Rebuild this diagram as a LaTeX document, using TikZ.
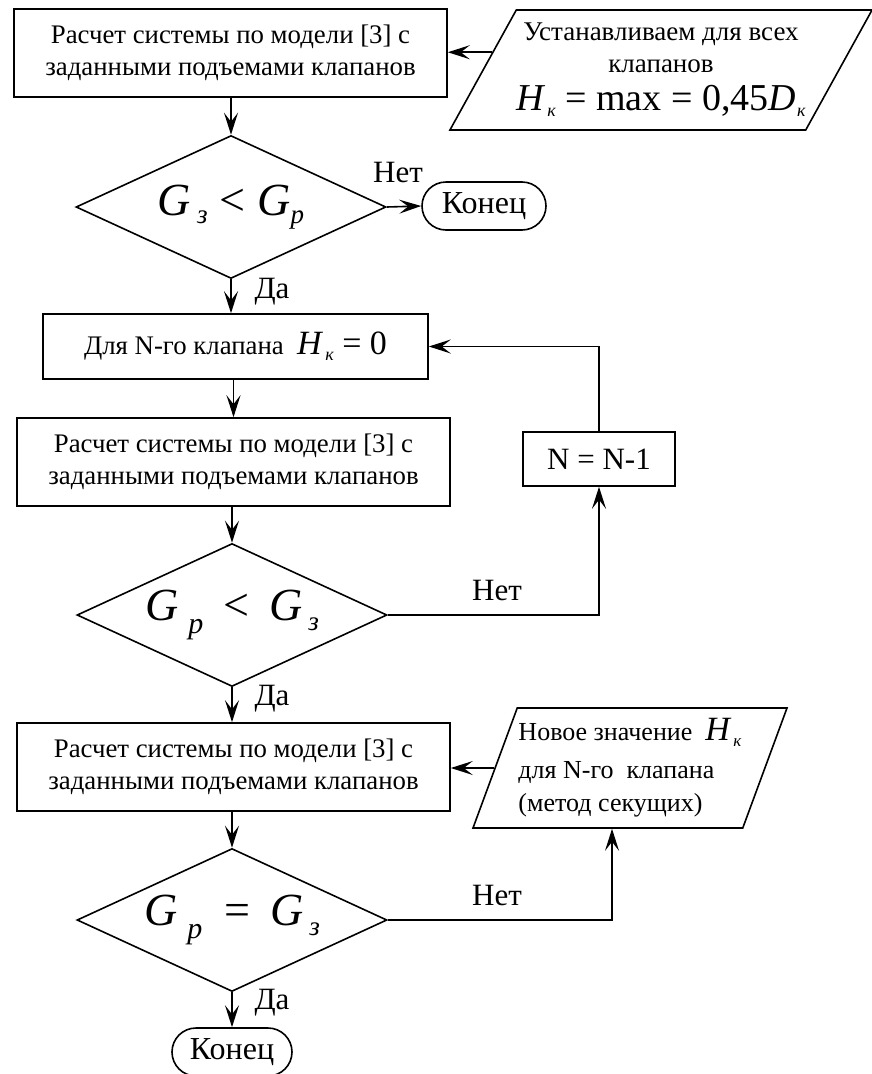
\documentclass[tikz,border=0pt]{standalone}
\usepackage{fontspec}
\setmainfont{Liberation Serif}
\usetikzlibrary{shapes.geometric,arrows.meta}

% lowered italic index: size, drop, letter
\newcommand\lowsub[3]{\raisebox{-#2}{\fontsize{#1}{#1}\selectfont\textit{#3}}}

\tikzset{
    block/.style={draw,line width=1.6pt,rectangle,align=center,inner sep=0pt,font=\fontsize{26.8}{32}\selectfont},
    decide/.style={draw,line width=1.6pt,diamond,aspect=2,inner sep=0pt,minimum width=310pt,minimum height=143pt,font=\fontsize{46}{46}\selectfont},
    inout/.style={draw,line width=1.6pt,trapezium,trapezium stretches body,inner sep=0pt,minimum height=120pt,font=\fontsize{27}{32}\selectfont},
    stopnode/.style={draw,line width=1.6pt,rectangle,rounded corners=24pt,minimum width=124pt,minimum height=48pt,inner sep=0pt,font=\fontsize{32}{32}\selectfont},
    lbl/.style={inner sep=0pt,font=\fontsize{31}{31}\selectfont},
    arr/.style={line width=1.6pt,-{Stealth[length=22pt,width=14pt,inset=9pt]}}
}

\begin{document}
\begin{tikzpicture}[x=1pt,y=-1pt]
    \useasboundingbox (0,0) rectangle (872,1074);
    % column of blocks
    \node[block,minimum width=433pt,minimum height=88pt] (calc1) at (230.5,53) {Расчет системы по модели [3] с\\заданными подъемами клапанов};
    \node[inout,trapezium left angle=54.7,trapezium right angle=125.3,minimum width=420pt,align=center] (set1) at (661,70)
        {Устанавливаем для всех\\клапанов\\[6pt]{\fontsize{38}{38}\selectfont\textit{H}\hspace{2pt}\lowsub{18}{6pt}{к}\ = max = 0,45\textit{D}\hspace{1pt}\lowsub{18}{6pt}{к}}};
    \node[decide] (cmp1) at (231,207) {\textit{G}\hspace{6pt}\lowsub{27}{8pt}{з}\hspace{12pt}<\hspace{12pt}\textit{G}\lowsub{27}{8pt}{p}\hspace{6pt}};
    \node[stopnode] (end1) at (484,206) {Конец};
    \node[block,minimum width=385pt,minimum height=65pt] (first) at (235.5,346.5)
        {Для N-го клапана\ \ {\fontsize{34}{34}\selectfont\textit{H}\hspace{2pt}\lowsub{18}{6pt}{к}\ = 0}};
    \node[block,minimum width=433pt,minimum height=88pt] (calc2) at (233.5,462) {Расчет системы по модели [3] с\\заданными подъемами клапанов};
    \node[block,minimum width=152pt,minimum height=54pt,font=\fontsize{31}{31}\selectfont] (dec) at (599,459) {N = N-1};
    \node[decide] (cmp2) at (232,615) {\textit{G}\hspace{10pt}\lowsub{30}{13pt}{p}\hspace{20pt}<\hspace{20pt}\textit{G}\hspace{6pt}\lowsub{27}{10pt}{з}};
    \node[block,minimum width=433pt,minimum height=88pt] (calc3) at (233.5,767) {Расчет системы по модели [3] с\\заданными подъемами клапанов};
    \node[inout,trapezium left angle=65.9,trapezium right angle=114.1,minimum width=314pt,align=left,font=\fontsize{26}{36}\selectfont] (set2) at (630,768)
        {Новое значение\ \ {\fontsize{34}{34}\selectfont\textit{H}\hspace{2pt}\lowsub{17}{6pt}{к}}\\[2pt]для N-го\ \ клапана\\[-3pt](метод секущих)};
    \node[decide] (cmp3) at (232,920) {\textit{G}\hspace{10pt}\lowsub{30}{13pt}{p}\hspace{22pt}=\hspace{20pt}\textit{G}\hspace{6pt}\lowsub{27}{10pt}{з}\hspace{10pt}};
    \node[stopnode,minimum width=120pt] (end2) at (232,1052) {Конец};
    % labels
    \node[lbl] (no1) at (398,172) {Нет};
    \node[lbl] (yes1) at (272,292) {Да};
    \node[lbl] (no2) at (497,590) {Нет};
    \node[lbl] (yes2) at (272,699) {Да};
    \node[lbl] (no3) at (497,895) {Нет};
    \node[lbl] (yes3) at (272,1003) {Да};
    % connectors
    \draw[arr] (set1.174) -- (set1.174 -| calc1.east);
    \draw[arr] (calc1.south -| cmp1.north) -- (cmp1.north);
    \draw[arr] (cmp1.east) -- (end1.west);
    \draw[arr] (cmp1.south) -- (cmp1.south |- first.north);
    \draw[arr] (first.south -| calc2.north) -- (calc2.north);
    \draw[arr] (calc2.south -| cmp2.north) -- (cmp2.north);
    \draw[arr] (cmp2.east) -| (dec.south);
    \draw[arr] (dec.north) |- (first.east);
    \draw[arr] (cmp2.south) -- (cmp2.south |- calc3.north);
    \draw[arr] (calc3.south -| cmp3.north) -- (cmp3.north);
    \draw[arr] (set2.west) -- (set2.west -| calc3.east);
    \draw[arr] (cmp3.east) -| ([xshift=-18pt]set2.south);
    \draw[arr] (cmp3.south) -- (end2.north);
\end{tikzpicture}
\end{document}
